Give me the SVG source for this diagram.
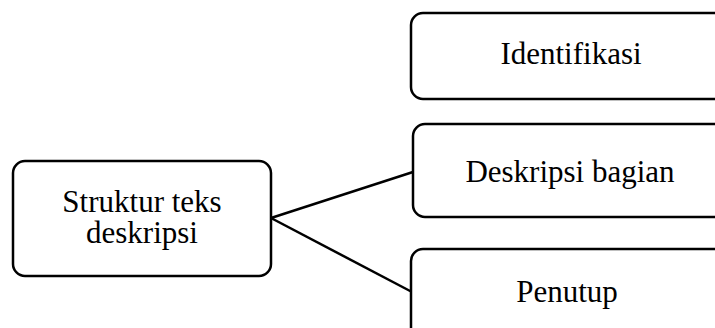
<svg xmlns="http://www.w3.org/2000/svg" width="715" height="328" viewBox="0 0 715 328">
<style>
.box{fill:#fff;stroke:#000;stroke-width:2.5}
.lbl{font-family:"Liberation Serif","Times New Roman",serif;font-size:31px;fill:#000;text-anchor:middle}
.conn{stroke:#000;stroke-width:2.5;fill:none}
</style>
<rect width="715" height="328" fill="#fff"/>
<g id="connectors">
<line class="conn" x1="271" y1="218" x2="413" y2="172"/>
<line class="conn" x1="271" y1="218" x2="412" y2="292"/>
</g>
<g id="node-struktur">
<rect class="box" x="13" y="161" width="258" height="115" rx="12"/>
<text class="lbl" x="142" y="212">Struktur teks</text>
<text class="lbl" x="142" y="243">deskripsi</text>
</g>
<g id="node-identifikasi">
<rect class="box" x="411" y="13" width="320" height="86" rx="12"/>
<text class="lbl" x="571" y="64">Identifikasi</text>
</g>
<g id="node-deskripsi">
<rect class="box" x="413" y="124" width="320" height="93" rx="12"/>
<text class="lbl" x="570" y="182">Deskripsi bagian</text>
</g>
<g id="node-penutup">
<rect class="box" x="411" y="249" width="320" height="100" rx="12"/>
<text class="lbl" x="567" y="302">Penutup</text>
</g>
</svg>
